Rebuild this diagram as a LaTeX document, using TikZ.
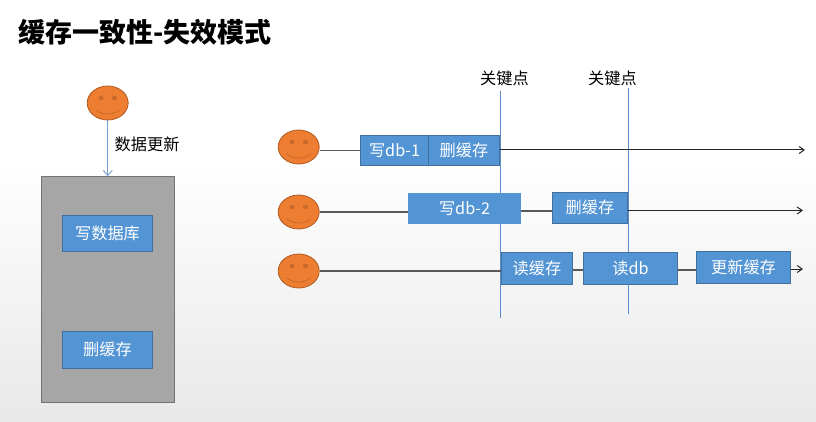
\documentclass[tikz,border=0pt]{standalone}
\usepackage{fontspec}
\setmainfont{Noto Sans CJK SC}
\usetikzlibrary{arrows.meta,shapes.geometric,calc}
\definecolor{boxblue}{HTML}{5294D4}
\definecolor{boxedge}{HTML}{41719C}
\definecolor{lineblue}{HTML}{5B8FC9}
\definecolor{faceor}{HTML}{ED7D31}
\definecolor{faceedge}{HTML}{AE5A21}
\definecolor{eyeor}{HTML}{C8692A}
\tikzset{
  x=1pt,y=-1pt,
  bluebox/.style={rectangle,draw=boxedge,line width=0.8pt,fill=boxblue,text=white,font=\fontsize{16.2}{18}\selectfont,inner sep=0pt,anchor=north west},
  plainbox/.style={bluebox,draw=boxblue},
  face/.style={ellipse,draw=faceedge,line width=0.8pt,fill=faceor,minimum width=41pt,minimum height=34pt,inner sep=0pt},
  timeline/.style={draw=black!65,line width=1.2pt},
  timearrow/.style={draw=black!85,line width=1pt,-{Straight Barb[length=5pt,width=7pt]}},
  keyline/.style={draw=lineblue,line width=0.9pt},
  label/.style={text=black,font=\fontsize{16.2}{18}\selectfont,inner sep=0pt}
}
\newcommand{\smileyface}[3]{%
  \node[face] (#1) at (#2,#3) {};
  \fill[eyeor] (#2-6.7,#3-5) ellipse (2.6pt and 2.2pt);
  \fill[eyeor] (#2+6.7,#3-5) ellipse (2.6pt and 2.2pt);
  \draw[eyeor,line width=0.8pt] (#2-12,#3+7) .. controls (#2-4,#3+12.5) and (#2+4,#3+12.5) .. (#2+12,#3+7);
}
\newcommand{\bbox}[7][bluebox]{% style, name, x1,y1,x2,y2, text
  \node[#1,minimum width=#5-#3-0.6,minimum height=#6-#4-0.3] (#2) at (#3-0.1,#4) {#7};
}
\begin{document}
\begin{tikzpicture}
\useasboundingbox (0,0) rectangle (816,422);
\fill[white] (0,0) rectangle (816,160);
\shade[top color=white,bottom color=black!9] (0,160) rectangle (816,422);
\node[anchor=west,inner sep=0pt,font=\fontsize{27}{30}\selectfont\bfseries] (title) at (18,32) {缓存一致性-失效模式};

% left part
\node[rectangle,draw=black!55,fill=black!35,line width=0.8pt,anchor=north west,minimum width=133pt,minimum height=225.5pt,inner sep=0pt] (store) at (41.1,176.1) {};
\smileyface{top}{107.7}{103}
\draw[keyline,draw=lineblue!85,-{Straight Barb[length=5pt,width=9pt]}] (top.south) -- (store.north-|top.south);
\node[label,anchor=west] (upd) at (114.5,144.5) {数据更新};
\bbox{wdb}{62}{215}{153}{251}{写数据库}
\bbox{del}{62}{331}{153}{368}{删缓存}

% key lines
\node[label] (k1) at (504.5,78.5) {关键点};
\node[label] (k2) at (612.5,78.5) {关键点};
\coordinate (k1top) at (500,91);
\coordinate (k1bot) at (500,318);
\coordinate (k2top) at (628,88);
\coordinate (k2bot) at (628,314);
\draw[keyline] (k1top) -- (k1bot);
\draw[keyline] (k2top) -- (k2bot);

% row 1
\smileyface{a}{298.7}{147}
\bbox{a1}{360.5}{135}{428.5}{165}{写db-1}
\bbox{a2}{428.5}{135}{499.5}{165}{删缓存}
\coordinate (aend) at (805,150);
\coordinate (aleft) at (0,150.5);
\draw[timeline] (a.east|-aleft) -- (a1.west|-aleft);
\draw[timearrow] (a2.east|-aend) -- (aend);

% row 2
\smileyface{b}{298.7}{212}
\bbox[plainbox]{b1}{408}{193}{521}{223}{写db-2}
\bbox{b2}{552}{192}{628}{223}{删缓存}
\coordinate (bend) at (803,210.5);
\coordinate (bmid) at (0,211);
\draw[timeline] (b.east) -- (b1.west|-b.east);
\draw[timeline] (b1.east|-bmid) -- (b2.west|-bmid);
\draw[timearrow] (b2.east|-bend) -- (bend);

% row 3
\smileyface{c}{298.7}{271}
\bbox{c1}{501}{252}{573}{284}{读缓存}
\bbox{c2}{583}{252}{678}{284}{读db}
\bbox{c3}{696}{251}{791}{283}{更新缓存}
\coordinate (cend) at (803,269);
\coordinate (cmid) at (0,270);
\draw[timeline] (c.east) -- (c1.west|-c.east);
\draw[timeline] (c1.east|-cmid) -- (c2.west|-cmid);
\draw[timeline] (c2.east|-cmid) -- (c3.west|-cmid);
\draw[timearrow] (c3.east|-cend) -- (cend);
\end{tikzpicture}
\end{document}
